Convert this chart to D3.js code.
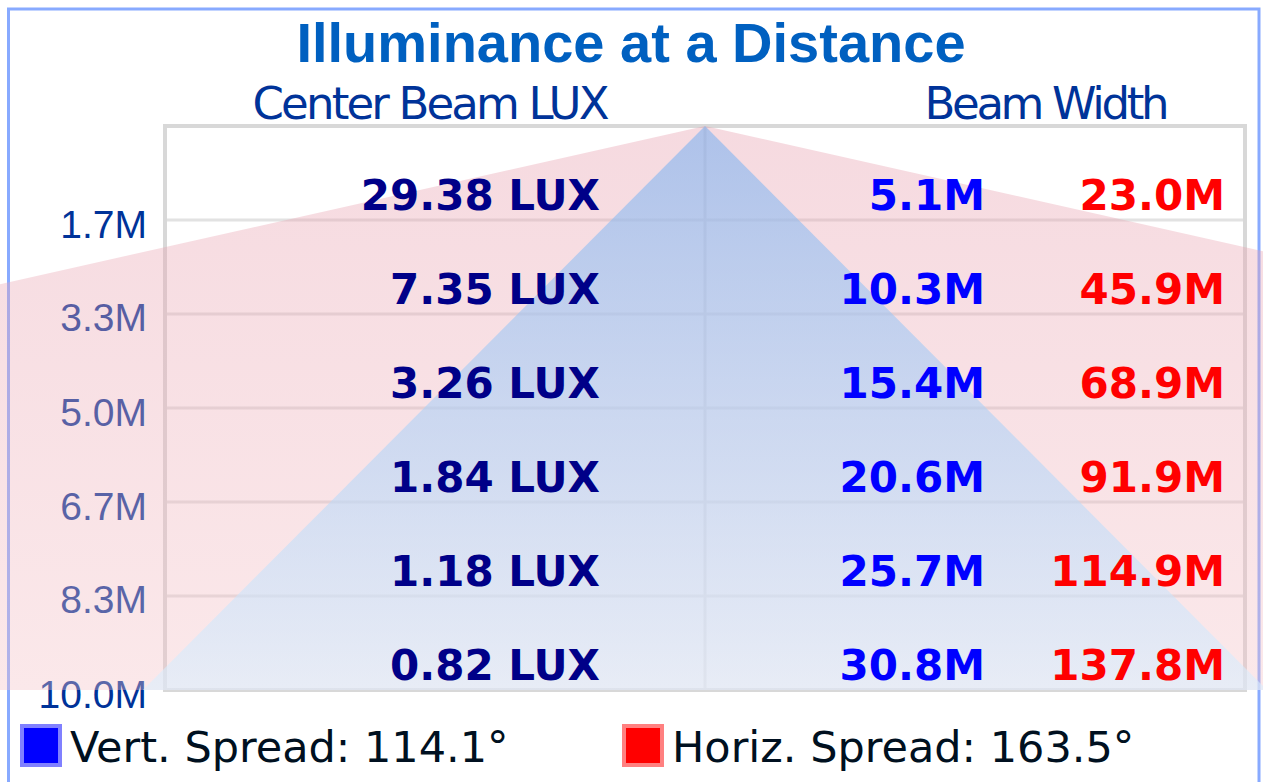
<!DOCTYPE html>
<html>
<head>
<meta charset="utf-8">
<script src="https://cdn.jsdelivr.net/npm/d3@7/dist/d3.min.js"></script>
<style>
  html, body { margin: 0; padding: 0; background: #fff; }
  svg { display: block; }
</style>
</head>
<body>
<div id="chart"></div>
<script>
// Values
const distances = [1.667, 3.333, 5.0, 6.667, 8.333, 10.0];
const luxValues = [29.38, 7.35, 3.26, 1.84, 1.18, 0.82];
const vertWidths = [5.1, 10.3, 15.4, 20.6, 25.7, 30.8];
const horizWidths = [23.0, 45.9, 68.9, 91.9, 114.9, 137.8];
const vertSpread = 114.1;
const horizSpread = 163.5;

const width = 1263;
const height = 782;

const svg = d3.select('#chart').append('svg')
  .attr('width', width)
  .attr('height', height);

// scales: distance downwards, beam width across
const y = d3.scaleLinear().domain([0, 10]).range([126, 690]);
const x = d3.scaleLinear().domain([-15.4, 15.4]).range([143, 1267]);
const plotLeft = 165;
const plotRight = 1245;

const defs = svg.append('defs');

const addGradient = (id, top, bottom) => {
  const g = defs.append('linearGradient')
    .attr('id', id)
    .attr('gradientUnits', 'userSpaceOnUse')
    .attr('x1', 0).attr('x2', 0)
    .attr('y1', y(0)).attr('y2', y(10));
  g.append('stop').attr('offset', '0%').attr('stop-color', top[0]).attr('stop-opacity', top[1]);
  g.append('stop').attr('offset', '100%').attr('stop-color', bottom[0]).attr('stop-opacity', bottom[1]);
};
addGradient('redFill', ['rgb(230,155,171)', 0.37], ['rgb(244,193,198)', 0.37]);
addGradient('blueFill', ['rgb(126,178,240)', 0.6], ['rgb(219,239,254)', 0.6]);

defs.append('clipPath')
  .attr('id', 'fillClip')
  .append('rect')
  .attr('x', 0)
  .attr('y', 0)
  .attr('width', width)
  .attr('height', y(10) + 2);

// outer frame
svg.append('rect')
  .attr('x', 8.5)
  .attr('y', 9)
  .attr('width', 1250.5)
  .attr('height', 820)
  .attr('fill', 'none')
  .attr('stroke', '#88aaff')
  .attr('stroke-width', 3);

// titles
svg.append('text')
  .attr('x', 631)
  .attr('y', 62)
  .attr('text-anchor', 'middle')
  .style('font', 'bold 56px "Liberation Sans", Arial, sans-serif')
  .attr('fill', '#0060c0')
  .text('Illuminance at a Distance');

svg.append('text')
  .attr('x', 431)
  .attr('y', 119)
  .attr('text-anchor', 'middle')
  .style('font', '45px "DejaVu Sans", sans-serif')
  .attr('fill', '#003399')
  .attr('textLength', 357)
  .text('Center Beam LUX');

svg.append('text')
  .attr('x', 1047)
  .attr('y', 119)
  .attr('text-anchor', 'middle')
  .style('font', '45px "DejaVu Sans", sans-serif')
  .attr('fill', '#003399')
  .attr('textLength', 245)
  .text('Beam Width');

// grid
const grid = svg.append('g').attr('class', 'grid');

grid.selectAll('line.h')
  .data(distances.slice(0, -1))
  .enter().append('line')
  .attr('class', 'h')
  .attr('x1', plotLeft)
  .attr('x2', plotRight)
  .attr('y1', (d) => y(d))
  .attr('y2', (d) => y(d))
  .attr('stroke', '#e2e2e2')
  .attr('stroke-width', 3);

grid.append('line')
  .attr('x1', x(0)).attr('x2', x(0))
  .attr('y1', y(0)).attr('y2', y(10))
  .attr('stroke', '#e0e0e0')
  .attr('stroke-width', 3);

grid.append('rect')
  .attr('x', plotLeft)
  .attr('y', y(0))
  .attr('width', plotRight - plotLeft)
  .attr('height', y(10) - y(0))
  .attr('fill', 'none')
  .attr('stroke', '#d8d8d8')
  .attr('stroke-width', 4);

// distance axis
const yAxis = d3.axisLeft(y)
  .tickValues(distances)
  .tickSize(0)
  .tickPadding(0)
  .tickFormat((d) => `${d.toFixed(1)}M`);

const axisG = svg.append('g')
  .attr('transform', 'translate(147,0)')
  .call(yAxis);
axisG.select('.domain').remove();
axisG.selectAll('text')
  .attr('dy', null)
  .attr('y', 17)
  .style('font', '39px "Liberation Sans", Arial, sans-serif')
  .attr('fill', '#003399');

// beam cones
const cone = (w) => [[0, 0], [-w / 2, 10], [w / 2, 10]];
const coneLine = d3.line()
  .x((d) => x(d[0]))
  .y((d) => y(d[1]));

const fills = svg.append('g').attr('clip-path', 'url(#fillClip)');

fills.append('path')
  .datum(cone(horizWidths[horizWidths.length - 1]))
  .attr('d', (d) => `${coneLine(d)}Z`)
  .attr('fill', 'url(#redFill)');

fills.append('path')
  .datum(cone(vertWidths[vertWidths.length - 1]))
  .attr('d', (d) => `${coneLine(d)}Z`)
  .attr('fill', 'url(#blueFill)');

// row values
const rows = svg.append('g')
  .style('font', 'bold 42px "DejaVu Sans", sans-serif')
  .attr('text-anchor', 'end');

const addColumn = (values, xPos, color, fmt) => {
  rows.selectAll(null)
    .data(values)
    .enter().append('text')
    .attr('x', xPos)
    .attr('y', (d, i) => y(distances[i]) - 10)
    .attr('fill', color)
    .text(fmt);
};
addColumn(luxValues, 600, '#000088', (d) => `${d.toFixed(2)} LUX`);
addColumn(vertWidths, 985, '#0000ff', (d) => `${d.toFixed(1)}M`);
addColumn(horizWidths, 1225, '#ff0000', (d) => `${d.toFixed(1)}M`);

// legend
const legend = [
  { label: `Vert. Spread: ${vertSpread.toFixed(1)}°`, fill: '#0000ff', stroke: '#8080ff', x: 22 },
  { label: `Horiz. Spread: ${horizSpread.toFixed(1)}°`, fill: '#ff0000', stroke: '#ff8080', x: 624 },
];

const legendG = svg.selectAll('g.legend')
  .data(legend)
  .enter().append('g')
  .attr('class', 'legend')
  .attr('transform', (d) => `translate(${d.x},726)`);

legendG.append('rect')
  .attr('width', 38)
  .attr('height', 39)
  .attr('fill', (d) => d.fill)
  .attr('stroke', (d) => d.stroke)
  .attr('stroke-width', 4);

legendG.append('text')
  .attr('x', 48)
  .attr('y', 36)
  .style('font', '43px "DejaVu Sans", sans-serif')
  .attr('fill', '#001020')
  .text((d) => d.label);
</script>
</body>
</html>
